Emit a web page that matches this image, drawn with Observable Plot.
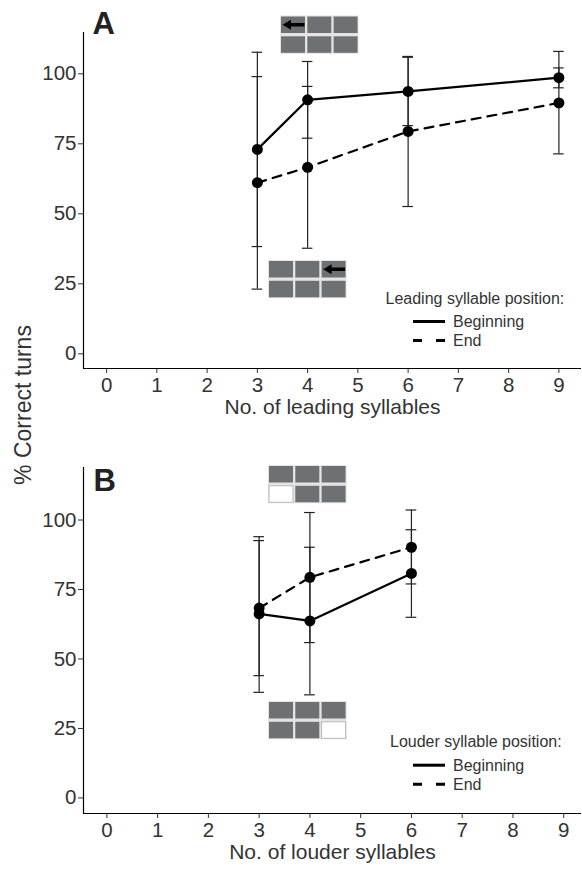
<!DOCTYPE html>
<html><head><meta charset="utf-8">
<script src="https://cdn.jsdelivr.net/npm/d3@7"></script>
<script src="https://cdn.jsdelivr.net/npm/@observablehq/plot@0.6"></script>
<style>
body{margin:0;background:#fff;}
#fig{position:relative;width:582px;height:869px;font-family:"Liberation Sans",Arial,sans-serif;}
#pa{position:absolute;left:0;top:0;}
#pb{position:absolute;left:0;top:445px;}
#ylab{position:absolute;left:0;top:0;pointer-events:none;}
</style></head><body><div id="fig"><div id="pa"></div><div id="pb"></div><svg id="ylab" width="582" height="869"></svg></div>
<script>
// ---- data ----
const xTicks = [0,1,2,3,4,5,6,7,8,9];
const yTicks = [0,25,50,75,100];
const seriesNames = ["Beginning","End"];

// Panel A: leading syllables
const xA = [3,4,6,9];
const beginA   = [73.0, 90.7, 93.7, 98.6];
const beginALo = [38.3, 77.0, 81.5, 95.0];
const beginAHi = [107.7,104.4,105.9,102.1];
const endA     = [61.1, 66.6, 79.4, 89.6];
const endALo   = [23.1, 37.7, 52.6, 71.4];
const endAHi   = [99.0, 95.5, 106.2,108.0];

// Panel B: louder syllables
const xB = [3,4,6];
const beginB   = [66.2, 63.7, 80.8];
const beginBLo = [38.0, 37.1, 65.0];
const beginBHi = [94.0, 90.2, 96.5];
const endB     = [68.3, 79.4, 90.2];
const endBLo   = [44.0, 55.9, 77.0];
const endBHi   = [92.6, 102.7,103.6];

const xLabelA = "No. of leading syllables";
const xLabelB = "No. of louder syllables";
const yLabel = "% Correct turns";
const legendTitleA = "Leading syllable position:";
const legendTitleB = "Louder syllable position:";

function rows(xs, mean, lo, hi, series){
  return xs.map((x,i)=>({x, y:mean[i], lo:lo[i], hi:hi[i], series}));
}
const dataA = [...rows(xA,beginA,beginALo,beginAHi,seriesNames[0]), ...rows(xA,endA,endALo,endAHi,seriesNames[1])];
const dataB = [...rows(xB,beginB,beginBLo,beginBHi,seriesNames[0]), ...rows(xB,endB,endBLo,endBHi,seriesNames[1])];

const FONT = "Liberation Sans, Arial, sans-serif";
const TXT = "#333";
const capHalf = 0.105;

function drawIcon(g, left, top, kind){
  const w = 24, h = 16.5, cg = 2.3, rg = 3.3;
  const ig = g.append("g");
  ig.append("rect").attr("x", left-1).attr("y", top-1)
    .attr("width", 3*w+2*cg+2).attr("height", 2*h+rg+2).attr("fill", "#e4e4e4");
  for (let r=0;r<2;r++) for (let c=0;c<3;c++){
    const x = left + c*(w+cg), y = top + r*(h+rg);
    const white = (kind==="whiteBL" && r===1 && c===0) || (kind==="whiteBR" && r===1 && c===2);
    ig.append("rect").attr("x", x).attr("y", y).attr("width", w).attr("height", h)
      .attr("fill", white ? "#fff" : "#6e7173")
      .attr("stroke", white ? "#b8b8b8" : "none").attr("stroke-width", 1);
  }
  let ax = null;
  if (kind==="arrowTL") ax = left;
  if (kind==="arrowTR") ax = left + 2*(w+cg);
  if (ax !== null){
    const cy = top + h/2;
    ig.append("path")
      .attr("d", `M${ax+1.5},${cy} L${ax+10},${cy-5} L${ax+10},${cy-1.8} L${ax+w-0.5},${cy-1.8} L${ax+w-0.5},${cy+1.8} L${ax+10},${cy+1.8} L${ax+10},${cy+5} Z`)
      .attr("fill", "#000");
  }
}

function drawLegend(g, x, ty, title){
  g.append("text").attr("x", x).attr("y", ty).attr("dy", "0.36em").attr("text-anchor", "start")
    .attr("font-size", 16).attr("font-family", FONT).attr("fill", TXT).text(title);
  const lx = 413, lw = 32, y1 = ty + 23.5, y2 = ty + 42.5;
  g.append("line").attr("x1", lx).attr("x2", lx+lw).attr("y1", y1).attr("y2", y1)
    .attr("stroke", "#000").attr("stroke-width", 3);
  g.append("line").attr("x1", lx).attr("x2", lx+lw).attr("y1", y2).attr("y2", y2)
    .attr("stroke", "#000").attr("stroke-width", 3).attr("stroke-dasharray", "9,14");
  [[seriesNames[0], y1],[seriesNames[1], y2]].forEach(([t,y])=>{
    g.append("text").attr("x", lx+lw+8).attr("y", y).attr("dy", "0.36em").attr("text-anchor", "start")
      .attr("font-size", 16).attr("font-family", FONT).attr("fill", TXT).text(t);
  });
}

function makePanel(o){
  const data = o.data;
  const svg = Plot.plot({
    width: 582, height: o.height,
    marginLeft: 83, marginRight: 1, marginTop: o.marginTop, marginBottom: o.marginBottom,
    style: {fontFamily: FONT, background: "#fff", overflow: "visible"},
    x: {domain: o.xDomain},
    y: {domain: o.yDomain},
    marks: [
      Plot.axisX({ticks: xTicks, tickSize: 5, tickPadding: 3.5, label: null, fontSize: 20.5, fill: TXT, stroke: TXT, tickFormat: d=>String(d)}),
      Plot.axisY({ticks: yTicks, tickSize: 5, tickPadding: 2, label: null, fontSize: 20.5, fill: TXT, stroke: TXT}),
      Plot.ruleX([o.xDomain[0]], {stroke: "#000", strokeWidth: 1.2}),
      Plot.ruleY([o.yDomain[0]], {stroke: "#000", strokeWidth: 1.2}),
      Plot.ruleX(data, {x: "x", y1: "lo", y2: "hi", stroke: "#222", strokeWidth: 1.2}),
      Plot.ruleY(data, {y: "hi", x1: d=>d.x-capHalf, x2: d=>d.x+capHalf, stroke: "#222", strokeWidth: 1.2}),
      Plot.ruleY(data, {y: "lo", x1: d=>d.x-capHalf, x2: d=>d.x+capHalf, stroke: "#222", strokeWidth: 1.2}),
      Plot.line(data.filter(d=>d.series===seriesNames[0]), {x: "x", y: "y", stroke: "#000", strokeWidth: 2.2}),
      Plot.line(data.filter(d=>d.series===seriesNames[1]), {x: "x", y: "y", stroke: "#000", strokeWidth: 2.2, strokeDasharray: "9,7"}),
      Plot.dot(data, {x: "x", y: "y", r: 5.5, fill: "#000", stroke: "none"}),
      Plot.text([o.xLabel], {frameAnchor: "bottom", dy: 45, fontSize: 21, fill: TXT, text: d=>d})
    ]
  });
  const g = d3.select(svg).append("g");
  g.append("text").attr("x", o.letterX).attr("y", o.letterY).attr("font-size", 31).attr("text-anchor", "start")
    .attr("font-weight", "bold").attr("font-family", FONT).attr("fill", "#222").text(o.letter);
  o.icons.forEach(ic => drawIcon(g, ic.left, ic.top, ic.kind));
  drawLegend(g, o.legendX, o.legendY, o.legendTitle);
  return svg;
}

document.getElementById("pa").appendChild(makePanel({
  data: dataA, height: 440, marginTop: 32, marginBottom: 72,
  xDomain: [-0.46, 9.45], yDomain: [-5.25, 114.75],
  xLabel: xLabelA, letter: "A", letterX: 92.5, letterY: 33.5,
  icons: [{left: 281, top: 16.5, kind: "arrowTL"}, {left: 269, top: 261, kind: "arrowTR"}],
  legendX: 385.5, legendY: 298, legendTitle: legendTitleA
}));
document.getElementById("pb").appendChild(makePanel({
  data: dataB, height: 424, marginTop: 22, marginBottom: 56,
  xDomain: [-0.46, 9.35], yDomain: [-5.6, 118.9],
  xLabel: xLabelB, letter: "B", letterX: 93.5, letterY: 45.5,
  icons: [{left: 269, top: 21, kind: "whiteBL"}, {left: 269, top: 257, kind: "whiteBR"}],
  legendX: 390, legendY: 296.7, legendTitle: legendTitleB
}));

d3.select("#ylab").append("text")
  .attr("transform", "translate(23,405) rotate(-90)")
  .attr("text-anchor", "middle").attr("dy", "0.36em")
  .attr("font-size", 23).attr("font-family", FONT).attr("fill", TXT).text(yLabel);
</script></body></html>
